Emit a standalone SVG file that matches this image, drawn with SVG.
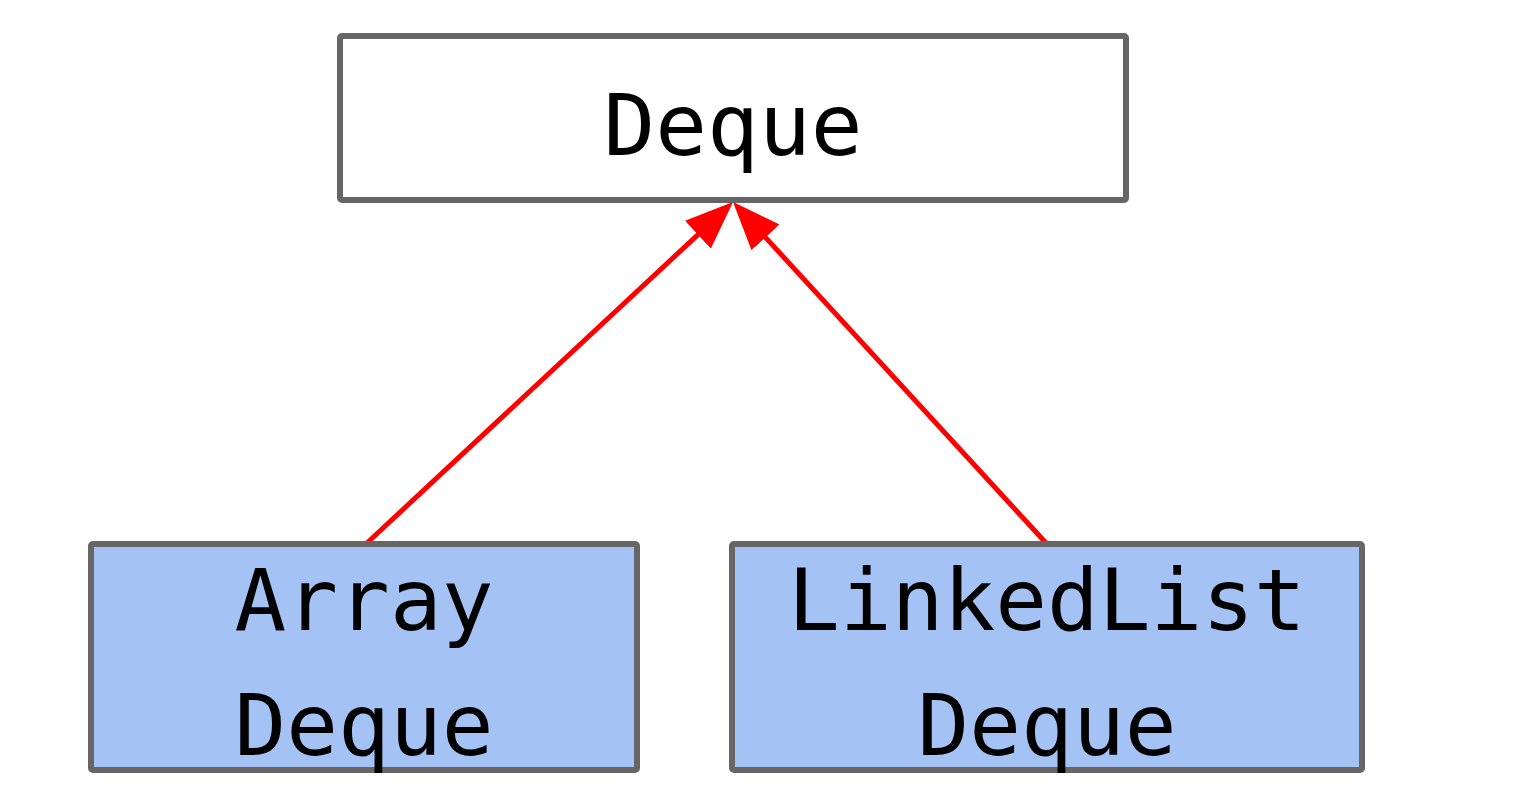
<svg xmlns="http://www.w3.org/2000/svg" width="1532" height="796" viewBox="0 0 1532 796">
<defs>
<style>
.box{stroke:#666666;stroke-width:6;}
.top{fill:#ffffff;}
.impl{fill:#a4c2f4;}
.lbl{font-family:"DejaVu Sans Mono","Liberation Mono",monospace;font-size:86px;fill:#000000;text-anchor:middle;}
.edge{stroke:#ff0000;stroke-width:5;fill:none;}
</style>
<marker id="arr" viewBox="0 0 48 38" refX="38" refY="19" markerWidth="48" markerHeight="38" markerUnits="userSpaceOnUse" orient="auto">
<path d="M0,0 L48,19 L0,38 z" fill="#ff0000"/>
</marker>
</defs>
<rect width="1532" height="796" fill="#ffffff"/>
<g id="connectors">
<line class="edge" x1="367" y1="543" x2="725.7" y2="208.8" marker-end="url(#arr)"/>
<line class="edge" x1="1046" y1="543" x2="739.8" y2="209.4" marker-end="url(#arr)"/>
</g>
<g id="node-deque">
<rect class="box top" x="340" y="36" width="786" height="164" rx="2"/>
<text class="lbl" x="733" y="155">Deque</text>
</g>
<g id="node-arraydeque">
<rect class="box impl" x="91" y="544" width="546" height="226" rx="2"/>
<text class="lbl" x="364" y="630">Array</text>
<text class="lbl" x="364" y="755">Deque</text>
</g>
<g id="node-linkedlistdeque">
<rect class="box impl" x="732" y="544" width="630" height="226" rx="2"/>
<text class="lbl" x="1047" y="630">LinkedList</text>
<text class="lbl" x="1047" y="755">Deque</text>
</g>
</svg>
